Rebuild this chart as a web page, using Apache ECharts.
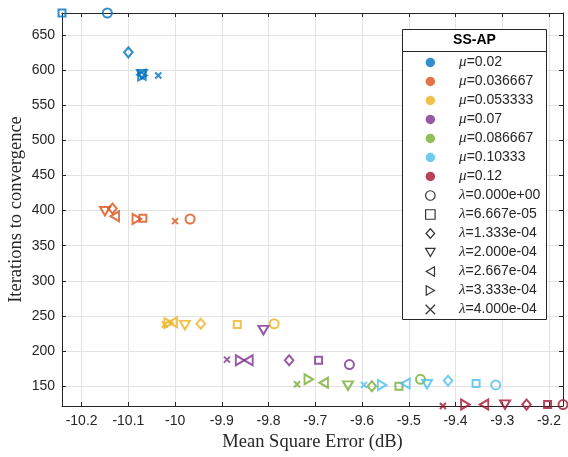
<!DOCTYPE html>
<html><head><meta charset="utf-8">
<script src="https://cdn.jsdelivr.net/npm/echarts@6/dist/echarts.min.js"></script>
<style>html,body{margin:0;padding:0;background:#fff}#c{width:568px;height:457px}</style>
</head><body><div id="c"></div>
<script>
// legend labels
const MU_LABELS = ['0.02','0.036667','0.053333','0.07','0.086667','0.10333','0.12'];
const LAMBDA_LABELS = ['0.000e+00','6.667e-05','1.333e-04','2.000e-04','2.667e-04','3.333e-04','4.000e-04'];
// point order inside every mu array follows LAMBDA_LABELS
const MSE_MU1 = [-10.145,-10.242,-10.100,-10.071,-10.072,-10.070,-10.036];
const ITER_MU1 = [681,681,625,594,593,592,592];
const MSE_MU2 = [-9.968,-10.069,-10.134,-10.150,-10.129,-10.082,-10.000];
const ITER_MU2 = [388,389,403,399,392,388,385];
const MSE_MU3 = [-9.788,-9.867,-9.945,-9.979,-10.005,-10.014,-10.022];
const ITER_MU3 = [239,238,239,237,241,240,238];
const MSE_MU4 = [-9.627,-9.693,-9.756,-9.811,-9.843,-9.861,-9.889];
const ITER_MU4 = [181,187,187,230,187,187,188];
const MSE_MU5 = [-9.475,-9.521,-9.579,-9.630,-9.682,-9.714,-9.739];
const ITER_MU5 = [160,150,150,151,155,160,153];
const MSE_MU6 = [-9.314,-9.356,-9.416,-9.461,-9.507,-9.557,-9.596];
const ITER_MU6 = [152,154,158,153,154,152,152];
const MSE_MU7 = [-9.170,-9.203,-9.248,-9.294,-9.339,-9.379,-9.427];
const ITER_MU7 = [124,124,124,124,124,124,122];
const X_TICKS = [-10.2,-10.1,-10,-9.9,-9.8,-9.7,-9.6,-9.5,-9.4,-9.3,-9.2];
const Y_TICKS = [150,200,250,300,350,400,450,500,550,600,650];
const X_MIN = -10.242, X_MAX = -9.170, Y_MIN = 122, Y_MAX = 681;

const MSE = [MSE_MU1,MSE_MU2,MSE_MU3,MSE_MU4,MSE_MU5,MSE_MU6,MSE_MU7];
const ITER = [ITER_MU1,ITER_MU2,ITER_MU3,ITER_MU4,ITER_MU5,ITER_MU6,ITER_MU7];
const COLORS = ['#0072BD','#D95319','#EDB120','#7E2F8E','#77AC30','#4DBEEE','#A2142F'];
const SYMBOLS = [
  'circle',
  'rect',
  'path://M5,0L10,5.5L5,11L0,5.5Z',
  'path://M0,0L10,0L5,8.66Z',
  'path://M8.66,0L8.66,10L0,5Z',
  'path://M0,0L0,10L8.66,5Z',
  'path://M0,0L10,10M0,10L10,0'
];
const SIZES = [9, 7, [8.5,10], [10,8.5], [8.5,10], [8.5,10], 6];

const TXT = '#262626';
const series = [];
MU_LABELS.forEach((m, i) => {
  series.push({
    type: 'scatter', name: 'μ=' + m, clip: false, z: 2,
    itemStyle: {color: 'transparent', borderColor: COLORS[i], borderWidth: 2},
    emphasis: {disabled: true},
    data: MSE[i].map((x, j) => ({value: [x, ITER[i][j]], symbol: SYMBOLS[j], symbolSize: SIZES[j]}))
  });
});
LAMBDA_LABELS.forEach((l, j) => {
  series.push({
    type: 'scatter', name: 'λ=' + l, symbol: SYMBOLS[j], symbolSize: 8,
    itemStyle: {color: 'transparent', borderColor: '#000', borderWidth: 1.2},
    data: []
  });
});

const legendData = MU_LABELS.map((m, i) => ({name: 'μ=' + m, icon: 'circle', itemStyle: {color: COLORS[i], borderWidth: 0}}))
  .concat(LAMBDA_LABELS.map((l, j) => ({name: 'λ=' + l, icon: SYMBOLS[j], itemStyle: {color: 'transparent', borderColor: '#000', borderWidth: 1.2}})));

const fmt = v => String(Math.round(v * 10) / 10);
const chart = echarts.init(document.getElementById('c'));
chart.setOption({
  animation: false,
  backgroundColor: '#fff',
  grid: {left: 62, right: 5, top: 13, bottom: 51, outerBoundsMode: 'none', containLabel: false},
  xAxis: [{
    type: 'value', min: X_MIN, max: X_MAX, position: 'bottom',
    axisLine: {show: true, onZero: false, lineStyle: {color: TXT, width: 1}},
    axisTick: {show: true, inside: true, length: 4, customValues: X_TICKS, lineStyle: {color: TXT}},
    axisLabel: {customValues: X_TICKS, formatter: fmt, color: TXT, fontSize: 14, fontFamily: 'Liberation Sans', margin: 8, showMinLabel: true, showMaxLabel: true},
    splitLine: {show: true, lineStyle: {color: '#e3e3e3', width: 1}},
    name: 'Mean Square Error (dB)', nameLocation: 'middle', nameGap: 27, nameMoveOverlap: false,
    nameTextStyle: {fontFamily: 'Liberation Serif', fontSize: 18.5, color: TXT}
  }, {
    type: 'value', min: X_MIN, max: X_MAX, position: 'top',
    axisLine: {show: true, onZero: false, lineStyle: {color: TXT, width: 1}},
    axisTick: {show: true, inside: true, length: 4, customValues: X_TICKS, lineStyle: {color: TXT}},
    axisLabel: {show: false}, splitLine: {show: false}
  }],
  yAxis: [{
    type: 'value', min: Y_MIN, max: Y_MAX, position: 'left',
    axisLine: {show: true, onZero: false, lineStyle: {color: TXT, width: 1}},
    axisTick: {show: true, inside: true, length: 4, customValues: Y_TICKS, lineStyle: {color: TXT}},
    axisLabel: {customValues: Y_TICKS, color: TXT, fontSize: 14, fontFamily: 'Liberation Sans', margin: 7},
    splitLine: {show: true, lineStyle: {color: '#e3e3e3', width: 1}},
    name: 'Iterations to convergence', nameLocation: 'middle', nameGap: 36, nameMoveOverlap: false,
    nameTextStyle: {fontFamily: 'Liberation Serif', fontSize: 18.5, color: TXT}
  }, {
    type: 'value', min: Y_MIN, max: Y_MAX, position: 'right',
    axisLine: {show: true, onZero: false, lineStyle: {color: TXT, width: 1}},
    axisTick: {show: true, inside: true, length: 4, customValues: Y_TICKS, lineStyle: {color: TXT}},
    axisLabel: {show: false}, splitLine: {show: false}
  }],
  legend: {
    orient: 'vertical', left: 425, top: 53, padding: 0, itemGap: 0,
    itemWidth: 9.5, itemHeight: 9.5, selectedMode: false, z: 4,
    formatter: name => '{g|' + name.charAt(0) + '}' + name.slice(1),
    textStyle: {
      fontFamily: 'Liberation Sans', fontSize: 14, color: TXT, lineHeight: 19, padding: [0, 0, 0, 19],
      rich: {g: {fontFamily: 'Liberation Serif', fontStyle: 'italic', fontSize: 15, color: TXT, lineHeight: 19}}
    },
    data: legendData
  },
  graphic: [
    {type: 'rect', z: 3, shape: {x: 402.5, y: 29.5, width: 144, height: 290}, style: {fill: '#fff', stroke: TXT, lineWidth: 1}},
    {type: 'line', z: 5, shape: {x1: 402.5, y1: 51.5, x2: 546.5, y2: 51.5}, style: {stroke: TXT, lineWidth: 1}},
    {type: 'text', z: 5, x: 474.5, y: 40.5, style: {text: 'SS-AP', fontFamily: 'Liberation Sans', fontSize: 14, fontWeight: 'bold', fill: '#000', align: 'center', verticalAlign: 'middle', textAlign: 'center', textVerticalAlign: 'middle'}}
  ],
  series: series
});
</script></body></html>
